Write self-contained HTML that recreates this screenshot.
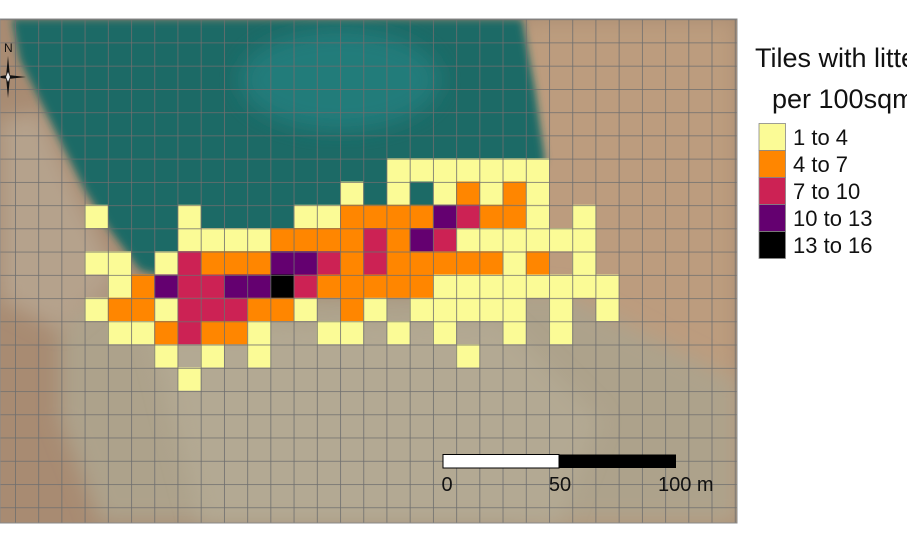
<!DOCTYPE html>
<html><head><meta charset="utf-8"><style>
html,body{margin:0;padding:0;background:#fff;width:907px;height:536px;overflow:hidden}
svg{display:block}
text{font-family:"Liberation Sans",Arial,sans-serif}
</style></head><body>
<svg width="907" height="536" viewBox="0 0 907 536" xmlns="http://www.w3.org/2000/svg">
<defs>
<filter id="bl" x="-20%" y="-20%" width="140%" height="140%"><feGaussianBlur stdDeviation="10"/></filter>
<filter id="bl2"><feGaussianBlur stdDeviation="4"/></filter>
<clipPath id="mc"><rect x="0" y="19" width="737" height="504"/></clipPath>
<pattern id="grid" x="15" y="-27.2" width="23.22" height="23.24" patternUnits="userSpaceOnUse">
<path d="M0 0 V23.24 M0 0 H23.22" stroke="#6e6e6e" stroke-width="1.6" fill="none"/>
</pattern>
</defs>
<g clip-path="url(#mc)">
<rect x="0" y="19" width="737" height="504" fill="#a88b72"/>
<rect x="520" y="19" width="217" height="504" fill="#bc9c7e" filter="url(#bl)"/>
<polygon points="60,300 560,290 737,380 737,523 100,523 60,420" fill="#ada28b" filter="url(#bl)"/>
<polygon points="150,330 500,320 600,420 560,523 200,523" fill="#b3a993" filter="url(#bl)"/>
<polygon points="0,120 40,110 80,200 120,280 60,330 0,300" fill="#b5a28c" filter="url(#bl)"/>
<polygon points="12,19 522,19 535,90 545,160 520,200 420,240 330,265 300,290 200,285 140,270 110,230 85,190 50,120 20,60" fill="#1f6a66" filter="url(#bl2)"/>
<ellipse cx="340" cy="80" rx="100" ry="50" fill="#237c7a" filter="url(#bl)"/>
<g transform="translate(15,158.3) scale(23.22,23.24)" stroke="none">
<g fill="#fbfb96">
<rect x="16" y="0" width="7" height="1"/>
<rect x="14" y="1" width="1" height="1"/><rect x="16" y="1" width="1" height="1"/><rect x="18" y="1" width="1" height="1"/><rect x="20" y="1" width="1" height="1"/><rect x="22" y="1" width="1" height="1"/>
<rect x="3" y="2" width="1" height="1"/><rect x="7" y="2" width="1" height="1"/><rect x="12" y="2" width="2" height="1"/><rect x="22" y="2" width="1" height="1"/><rect x="24" y="2" width="1" height="1"/>
<rect x="7" y="3" width="4" height="1"/><rect x="19" y="3" width="6" height="1"/>
<rect x="3" y="4" width="2" height="1"/><rect x="6" y="4" width="1" height="1"/><rect x="21" y="4" width="1" height="1"/><rect x="24" y="4" width="1" height="1"/>
<rect x="4" y="5" width="1" height="1"/><rect x="18" y="5" width="8" height="1"/>
<rect x="3" y="6" width="1" height="1"/><rect x="6" y="6" width="1" height="1"/><rect x="12" y="6" width="1" height="1"/><rect x="15" y="6" width="1" height="1"/><rect x="17" y="6" width="5" height="1"/><rect x="23" y="6" width="1" height="1"/><rect x="25" y="6" width="1" height="1"/>
<rect x="4" y="7" width="2" height="1"/><rect x="10" y="7" width="1" height="1"/><rect x="13" y="7" width="2" height="1"/><rect x="16" y="7" width="1" height="1"/><rect x="18" y="7" width="1" height="1"/><rect x="21" y="7" width="1" height="1"/><rect x="23" y="7" width="1" height="1"/>
<rect x="6" y="8" width="1" height="1"/><rect x="8" y="8" width="1" height="1"/><rect x="10" y="8" width="1" height="1"/><rect x="19" y="8" width="1" height="1"/>
<rect x="7" y="9" width="1" height="1"/>
</g>
<g fill="#ff8600">
<rect x="19" y="1" width="1" height="1"/><rect x="21" y="1" width="1" height="1"/>
<rect x="14" y="2" width="4" height="1"/><rect x="20" y="2" width="2" height="1"/>
<rect x="11" y="3" width="4" height="1"/><rect x="16" y="3" width="1" height="1"/>
<rect x="8" y="4" width="3" height="1"/><rect x="14" y="4" width="1" height="1"/><rect x="16" y="4" width="5" height="1"/><rect x="22" y="4" width="1" height="1"/>
<rect x="5" y="5" width="1" height="1"/><rect x="13" y="5" width="5" height="1"/>
<rect x="4" y="6" width="2" height="1"/><rect x="10" y="6" width="2" height="1"/><rect x="14" y="6" width="1" height="1"/>
<rect x="6" y="7" width="1" height="1"/><rect x="8" y="7" width="2" height="1"/>
</g>
<g fill="#cc2254">
<rect x="19" y="2" width="1" height="1"/>
<rect x="15" y="3" width="1" height="1"/><rect x="18" y="3" width="1" height="1"/>
<rect x="7" y="4" width="1" height="1"/><rect x="13" y="4" width="1" height="1"/><rect x="15" y="4" width="1" height="1"/>
<rect x="7" y="5" width="2" height="1"/><rect x="12" y="5" width="1" height="1"/>
<rect x="7" y="6" width="3" height="1"/>
<rect x="7" y="7" width="1" height="1"/>
</g>
<g fill="#640070">
<rect x="18" y="2" width="1" height="1"/>
<rect x="17" y="3" width="1" height="1"/>
<rect x="11" y="4" width="2" height="1"/>
<rect x="6" y="5" width="1" height="1"/><rect x="9" y="5" width="2" height="1"/>
</g>
<rect x="11" y="5" width="1" height="1" fill="#000"/>
</g>
<rect x="0" y="19" width="737" height="504" fill="url(#grid)"/>
<!-- north arrow -->
<text x="4" y="52" font-size="12" fill="#111">N</text>
<polygon points="8,56 10,77 8,98 6,77" fill="#111"/>
<polygon points="-6,77 8,75 26,77 8,79" fill="#111"/>
<polygon points="6,77 8,72 10,77 8,82" fill="#eee"/>
<!-- scale bar -->
<rect x="443" y="454.5" width="116" height="13.5" fill="#fff" stroke="#000" stroke-width="1"/>
<rect x="559" y="454.5" width="117" height="13.5" fill="#000"/>
<text x="447" y="491" font-size="20" text-anchor="middle" fill="#111">0</text>
<text x="560" y="491" font-size="20" text-anchor="middle" fill="#111">50</text>
<text x="658" y="491" font-size="20" fill="#111">100 m</text>
</g>
<rect x="0" y="19" width="737" height="504" fill="none" stroke="#888" stroke-width="1"/>
<!-- legend -->
<text x="755" y="67" font-size="27" fill="#111">Tiles with litter</text>
<text x="772" y="108" font-size="27" fill="#111">per 100sqm</text>
<g stroke="#888" stroke-width="0.8">
<rect x="759" y="123.5" width="26.5" height="27" fill="#fbfb96"/>
<rect x="759" y="150.5" width="26.5" height="27" fill="#ff8600"/>
<rect x="759" y="177.5" width="26.5" height="27" fill="#cc2254"/>
<rect x="759" y="204.5" width="26.5" height="27" fill="#640070"/>
<rect x="759" y="231.5" width="26.5" height="27" fill="#000"/>
</g>
<g font-size="22" fill="#111">
<text x="793" y="145">1 to 4</text>
<text x="793" y="172">4 to 7</text>
<text x="793" y="199">7 to 10</text>
<text x="793" y="226">10 to 13</text>
<text x="793" y="253">13 to 16</text>
</g>
</svg>
</body></html>
